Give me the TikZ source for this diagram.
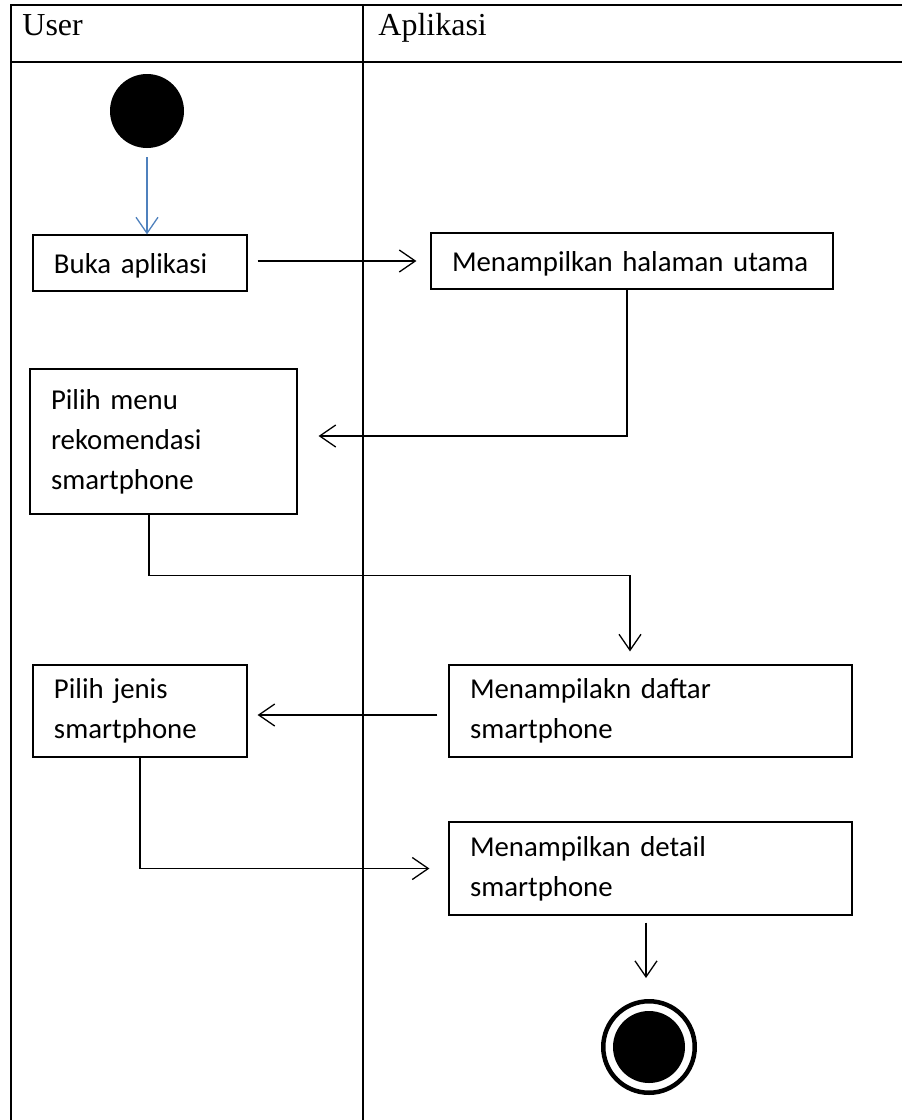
\documentclass[tikz,border=0pt]{standalone}
\usepackage{fontspec}
\setmainfont{Liberation Serif}
\newfontfamily\calibri{Carlito}
\usetikzlibrary{arrows.meta}
\definecolor{umlblue}{RGB}{79,129,189}

\begin{document}
\begin{tikzpicture}[x=0.5pt,y=-0.5pt,
  lane/.style={line width=1pt},
  lanetitle/.style={anchor=base west, inner sep=0pt, font=\fontsize{16}{19}\selectfont},
  act/.style={draw, rectangle, line width=0.6pt, inner xsep=10.5pt, inner ysep=0pt,
    align=left, font=\calibri\fontsize{14.4}{20}\selectfont},
  oneline/.style={act, text depth=0pt},
  flow/.style={line width=0.65pt, -{Straight Barb[length=8pt,width=11pt]}},
  flowblue/.style={flow, draw=umlblue},
  initial/.style={circle, fill=black, inner sep=0pt, minimum size=37pt},
  finalring/.style={circle, draw, line width=2.25pt, inner sep=0pt, minimum size=45.75pt}]
\useasboundingbox (0,0) rectangle (902,1120);

% swimlanes
\draw[lane] (11,1120) -- (11,5) -- (902,5);
\draw[lane] (11,62) -- (902,62);
\draw[lane] (363,5) -- (363,1120);
\node[lanetitle] (user) at (22,35) {User};
\node[lanetitle] (app) at (378,35) {Aplikasi};

% activities
\node[initial] (start) at (147,111) {};
\node[oneline, text width=86pt, minimum height=28pt] (buka) at (140,263) {Buka aplikasi};
\node[oneline, text width=180pt, minimum height=28pt] (utama) at (632,261) {Menampilkan halaman utama};
\node[act, text width=112.5pt, minimum height=72.5pt] (menu) at (163.5,441.5) {Pilih menu\\rekomendasi\\smartphone};
\node[act, text width=180.5pt, minimum height=46pt] (daftar) at (650.5,711) {Menampilakn daftar\\smartphone};
\node[act, text width=86pt, minimum height=46pt] (jenis) at (140,711) {Pilih jenis\\smartphone};
\node[act, text width=180.5pt, minimum height=46.5pt] (detail) at (650.5,868.5) {Menampilkan detail\\smartphone};
\node[finalring] (endring) at (649,1047) {};
\node[initial, minimum size=36pt] (enddot) at (endring) {};

% flows
\draw[flowblue, shorten <=4.5pt] (start.south) -- (start.south |- buka.north);
\draw[flow, shorten <=5pt, shorten >=7pt] (utama.west -| buka.east) -- (utama.west);
\draw[flow, shorten >=10.5pt] ([xshift=-2.5pt]utama.south) |- ([yshift=2.75pt]menu.east);
\draw[flow, shorten >=6.5pt] ([xshift=-34.25pt]menu.south) -- ([xshift=-7.25pt]menu.south)
  -- ++(0,61) -| ([xshift=-10.25pt]daftar.north);
\draw[flow, shorten <=5.5pt, shorten >=5pt] ([yshift=-2pt]daftar.west) -- ([yshift=-2pt]jenis.east);
\draw[flow, shorten >=9.5pt] ([xshift=-47.5pt]jenis.south) -- (jenis.south) |- (detail.west);
\draw[flow, shorten <=3.5pt, shorten >=10.5pt] ([xshift=-2.25pt]detail.south) -- ([xshift=-2.25pt]detail.south |- endring.north);
\end{tikzpicture}
\end{document}
